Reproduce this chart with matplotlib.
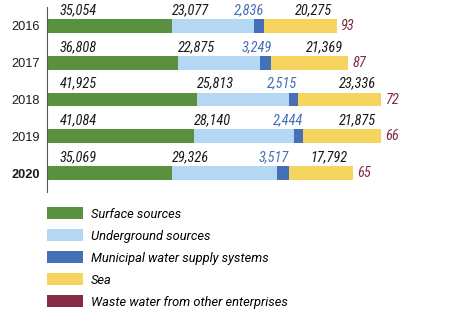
import matplotlib
matplotlib.use("Agg")
import matplotlib.pyplot as plt
from matplotlib.patches import Patch

years = ["2016", "2017", "2018", "2019", "2020"]
surface = [35054, 36808, 41925, 41084, 35069]
underground = [23077, 22875, 25813, 28140, 29326]
municipal = [2836, 3249, 2515, 2444, 3517]
sea = [20275, 21369, 23336, 21875, 17792]
waste = [93, 87, 72, 66, 65]
series_names = ["Surface sources", "Underground sources",
                "Municipal water supply systems", "Sea",
                "Waste water from other enterprises"]
colors = ["#5a9140", "#b4d8f3", "#4470b8", "#f5d55f", "#862a46"]

narrow = "Roboto Condensed"
nsize = 10.4

W, H = 454, 325
fig = plt.figure(figsize=(W / 100, H / 100), dpi=100)
ax = fig.add_axes([47 / W, 1 - 195 / H, (W - 47) / W, 195 / H])
sp = 36.75
ax.set_ylim((195 - 26) / sp, -26 / sp)
ax.set_xlim(0, 114100)

series = [surface, underground, municipal, sea, waste]
ypos = list(range(len(years)))
left = [0] * len(years)
lefts = []
for vals, c in zip(series, colors):
    lefts.append(list(left))
    ax.barh(ypos, vals, left=left, height=0.38, color=c, linewidth=0)
    left = [a + b for a, b in zip(left, vals)]

px = 114100 / (W - 47)  # data units per pixel
lab_off = -0.24
kw = dict(fontstyle="italic", family=narrow, fontsize=nsize)
for i in ypos:
    yl = i + lab_off
    ax.text(13 * px, yl, f"{surface[i]:,}", ha="left", va="bottom", color="#1a1a1a", **kw)
    ax.text(lefts[1][i], yl, f"{underground[i]:,}", ha="left", va="bottom", color="#1a1a1a", **kw)
    ax.text(lefts[2][i] + municipal[i], yl, f"{municipal[i]:,}", ha="right", va="bottom",
            color="#4470b8", **kw)
    ax.text(lefts[3][i] + sea[i] - 5 * px, yl, f"{sea[i]:,}", ha="right", va="bottom",
            color="#1a1a1a", **kw)
    ax.text(left[i] + 4 * px, i, f"{waste[i]:,}", ha="left", va="center", color="#862a46", **kw)

ax.set_yticks(ypos)
ax.set_yticklabels(years, family="Liberation Sans", fontsize=9.2, color="#1a1a1a")
ax.get_yticklabels()[-1].set_fontweight("bold")
ax.tick_params(axis="y", length=0, pad=5)
ax.set_xticks([])
for s in ["top", "right", "bottom"]:
    ax.spines[s].set_visible(False)
ax.spines["left"].set_color("#555555")
ax.spines["left"].set_linewidth(0.8)
ax.spines["left"].set_bounds((192 - 26) / sp, (7 - 26) / sp)

handles = [Patch(facecolor=c, edgecolor="none") for c in colors]
fig.legend(handles, series_names, loc="upper left",
           bbox_to_anchor=(47 / W, 1 - 207 / H), frameon=False,
           prop={"family": "Roboto", "style": "italic", "size": 9.3},
           handlelength=2.8, handleheight=1.08, handletextpad=0.62,
           labelspacing=0.66, borderpad=0, borderaxespad=0)

fig.savefig("out.png", dpi=100)
